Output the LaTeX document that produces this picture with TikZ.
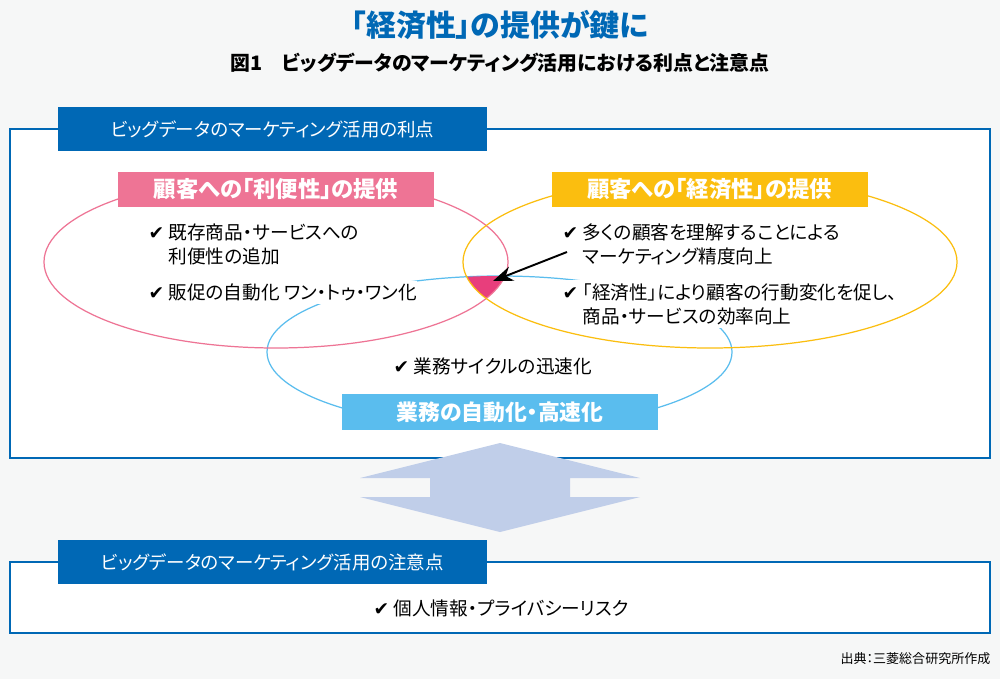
\documentclass[tikz,border=0pt]{standalone}
\usepackage{fontspec}
\usepackage{xcolor}
\setmainfont[RawFeature={+palt}]{Noto Sans CJK JP}
\newfontfamily\chkfont{DejaVu Sans}
\usetikzlibrary{positioning,calc,arrows.meta}
\definecolor{pageback}{HTML}{F6F7F7}
\definecolor{headblue}{HTML}{0068B5}
\definecolor{linkpink}{HTML}{EE7495}
\definecolor{linkyellow}{HTML}{FBBE0F}
\definecolor{linkcyan}{HTML}{5ABDEE}
\definecolor{lenspink}{HTML}{E83E7C}
\definecolor{arrowblue}{HTML}{C0CEE9}
\newlength{\unitpx}
\setlength{\unitpx}{0.01cm}
\tikzset{
    headbox/.style={fill=headblue, text=white, minimum width=429\unitpx, minimum height=44\unitpx, inner sep=0pt, font=\fontsize{5.25}{6}\selectfont},
    catbox/.style={text=white, minimum width=316\unitpx, minimum height=35\unitpx, inner sep=0pt, font=\fontsize{6.35}{7}\selectfont\bfseries},
    pointtext/.style={fill=white, text=black, anchor=west, align=left, inner xsep=0pt, inner ysep=0.9pt, font=\fontsize{5.3}{6.8}\selectfont},
    frameline/.style={draw=headblue, line width=0.5pt, fill=white},
    loopline/.style={line width=0.35pt}
}
\newcommand{\chk}{\makebox[20\unitpx][l]{\chkfont\fontsize{5.3}{6}\selectfont ✔}}
\newcommand{\chkgap}{\hspace*{20\unitpx}}
\begin{document}
\begin{tikzpicture}[x=0.01cm, y=-0.01cm]
    \fill [pageback] (0,0) rectangle (1000,679);
    \useasboundingbox (0,0) rectangle (1000,679);
    % titles
    \node (maintitle) [text=headblue, inner sep=0pt, font=\fontsize{8.5}{10}\selectfont\bfseries] at (500,25) {「経済性」の提供が鍵に};
    \node (subtitle) [text=black, inner sep=0pt, font=\fontsize{5.65}{7}\selectfont\bfseries] at (500,63) {図1　ビッグデータのマーケティング活用における利点と注意点};
    % frames
    \draw [frameline] (10,129) rectangle (990,458);
    \draw [frameline] (10,562) rectangle (990,633);
    % light-blue loop goes under the texts
    \draw [loopline, draw=linkcyan] (499.5,352) ellipse (232.5 and 76);
    \node (convtextA) [pointtext] at (148,244) {\chk 既存商品・サービスへの\\\chkgap 利便性の追加};
    \node (convtextB) [pointtext] at (148,292.5) {\chk 販促の自動化 ワン・トゥ・ワン化};
    \node (econtextA) [pointtext] at (562,244) {\chk 多くの顧客を理解することによる\\\chkgap マーケティング精度向上};
    \node (econtextB) [pointtext] at (562,304) {\chk 「経済性」により顧客の行動変化を促し、\\\chkgap 商品・サービスの効率向上};
    \node (speedtext) [pointtext] at (393,366) {\chk 業務サイクルの迅速化};
    % overlap of the three loops
    \begin{scope}
        \clip (276,262) ellipse (232 and 86);
        \clip (710,262) ellipse (247 and 86);
        \fill [lenspink] (499.5,352) ellipse (232.5 and 76);
    \end{scope}
    \draw [loopline, draw=linkpink] (276,262) ellipse (232 and 86);
    \draw [loopline, draw=linkyellow] (710,262) ellipse (247 and 86);
    % heads
    \node (convhead) [catbox, fill=linkpink] at (276,189.5) {顧客への「利便性」の提供};
    \node (econhead) [catbox, fill=linkyellow] at (709.5,189.5) {顧客への「経済性」の提供};
    \node (speedhead) [catbox, fill=linkcyan, minimum height=36\unitpx, font=\fontsize{6.2}{7}\selectfont\bfseries] at (500,412) {業務の自動化・高速化};
    \node (goodhead) [headbox] at (272.5,129) {ビッグデータのマーケティング活用の利点};
    \node (warnhead) [headbox] at (272.5,562) {ビッグデータのマーケティング活用の注意点};
    \coordinate (lensmark) at (493,281);
    \coordinate (arrowstart) at (567,252);
    \draw [-{Stealth[length=0.2cm, width=0.15cm]}, line width=0.55pt] (arrowstart) -- (lensmark);
    % double arrow between the frames
    \fill [arrowblue] (500,443) -- (640,478) -- (570,478) -- (570,497) -- (640,497) -- (500,532) -- (360,497) -- (430,497) -- (430,478) -- (360,478) -- cycle;
    \node (risktext) [pointtext, fill=none] at (373,608) {\chk 個人情報・プライバシーリスク};
    \node (source) [anchor=east, inner sep=0pt, font=\fontsize{3.7}{5}\selectfont] at (991,659) {出典：三菱総合研究所作成};
\end{tikzpicture}
\end{document}
